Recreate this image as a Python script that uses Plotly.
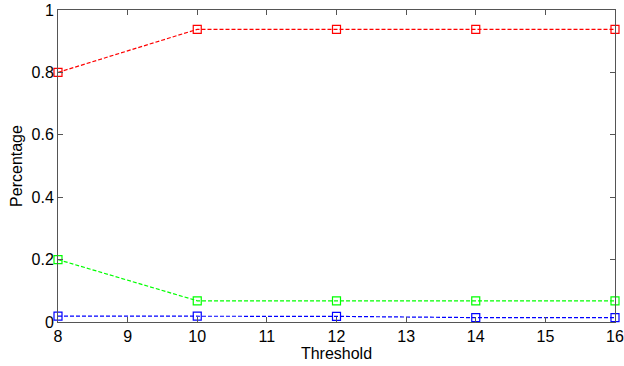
import plotly.graph_objects as go

thresholds = [8, 10, 12, 14, 16]
red_vals = [0.80, 0.938, 0.938, 0.938, 0.938]
green_vals = [0.20, 0.068, 0.068, 0.068, 0.068]
blue_vals = [0.019, 0.019, 0.018, 0.014, 0.014]

series = [(red_vals, "#ff0000"), (green_vals, "#00ff00"), (blue_vals, "#0000ff")]

fig = go.Figure()
for vals, col in series:
    fig.add_trace(go.Scatter(
        x=thresholds, y=vals, mode="lines+markers",
        line=dict(color=col, width=1.2, dash="4px,2px"),
        marker=dict(symbol="square-open", size=8, color=col, line=dict(width=1.2, color=col)),
        showlegend=False, cliponaxis=False))

axis_common = dict(showgrid=False, zeroline=False, mirror="ticks", ticks="inside",
                   ticklen=5, tickcolor="#555", linecolor="#555", linewidth=1,
                   showline=True, automargin=False,
                   tickfont=dict(family="Arial", size=16, color="#000"))
fig.update_xaxes(range=[8, 16], dtick=1, title=dict(text="Threshold", font=dict(family="Arial", size=16, color="#000"), standoff=2), **axis_common)
fig.update_yaxes(range=[0, 1], tickvals=[0, 0.2, 0.4, 0.6, 0.8, 1], ticktext=["0", "0.2", "0.4", "0.6", "0.8", "1"],
                 title=dict(text="Percentage", font=dict(family="Arial", size=16, color="#000"), standoff=4), **axis_common)
fig.update_layout(width=624, height=366, margin=dict(l=58, r=9, t=10, b=44, autoexpand=False),
                  paper_bgcolor="white", plot_bgcolor="white")
fig.write_html("out.html")
